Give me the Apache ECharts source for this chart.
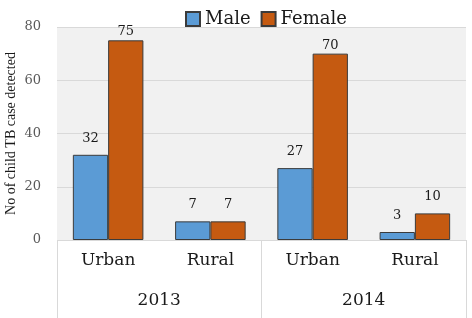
<!DOCTYPE html>
<html>
<head>
<meta charset="utf-8">
<script src="https://cdn.jsdelivr.net/npm/echarts@6/dist/echarts.min.js"></script>
<style>
html, body { margin: 0; padding: 0; background: #fff; }
#chart { width: 472px; height: 318px; }
</style>
</head>
<body>
<div id="chart"></div>
<script>
var sites = ["Urban", "Rural", "Urban", "Rural"];
var years = ["2013", "2014"];
var male = [32, 7, 27, 3];
var female = [75, 7, 70, 10];
var yTicks = { min: 0, max: 80, interval: 20 };

var font = "DejaVu Serif";

function withLabels(values) {
	// tall bars get their value tucked closer to the bar top
	return values.map(function(v) {
		return v >= 60 ? { value: v, label: { distance: 2 } } : v;
	});
}

var chart = echarts.init(document.getElementById("chart"));
var option = {
	animation: false,
	textStyle: { fontFamily: font },
	legend: {
		top: 5,
		left: 180,
		icon: "rect",
		itemWidth: 14,
		itemHeight: 14,
		itemGap: 10,
		textStyle: { fontFamily: font, fontSize: 18, color: "#1a1a1a" },
		data: ["Male", "Female"]
	},
	grid: {
		left: 57,
		right: 6,
		top: 27,
		bottom: 78,
		outerBoundsMode: "none",
		containLabel: false,
		show: true,
		backgroundColor: "#f1f1f1",
		borderWidth: 0
	},
	xAxis: [ {
		type: "category",
		data: sites,
		axisLine: { show: false },
		axisTick: { show: false },
		axisLabel: { fontFamily: font, fontSize: 17, color: "#1a1a1a", margin: 12 }
	}, {
		type: "category",
		data: years,
		position: "bottom",
		axisLine: { show: false },
		axisTick: { show: true, interval: 0, length: 78, lineStyle: { color: "#d9d9d9" } },
		axisLabel: { fontFamily: font, fontSize: 17, color: "#1a1a1a", margin: 52 },
		splitLine: { show: false }
	} ],
	yAxis: {
		type: "value",
		min: yTicks.min,
		max: yTicks.max,
		interval: yTicks.interval,
		name: "No of child TB case detected",
		nameLocation: "middle",
		nameGap: 39,
		nameMoveOverlap: false,
		nameTextStyle: { fontFamily: "Liberation Serif", fontSize: 14, color: "#1a1a1a" },
		axisLine: { show: false },
		axisTick: { show: false },
		axisLabel: { fontFamily: font, fontSize: 13, color: "#595959", margin: 16 },
		splitLine: { lineStyle: { color: "#d9d9d9" } }
	},
	series: [ {
		name: "Male",
		type: "bar",
		xAxisIndex: 0,
		barGap: "0%",
		barCategoryGap: "31%",
		data: withLabels(male),
		itemStyle: { color: "#5b9bd5", borderColor: "#3b3b3b", borderWidth: 1 },
		label: { show: true, position: "top", distance: 10, fontFamily: font, fontSize: 13, color: "#1a1a1a" }
	}, {
		name: "Female",
		type: "bar",
		xAxisIndex: 0,
		data: withLabels(female),
		itemStyle: { color: "#c55a11", borderColor: "#3b3b3b", borderWidth: 1 },
		label: { show: true, position: "top", distance: 10, fontFamily: font, fontSize: 13, color: "#1a1a1a" }
	} ]
};
chart.setOption(option);
window.addEventListener("resize", chart.resize);
</script>
</body>
</html>
